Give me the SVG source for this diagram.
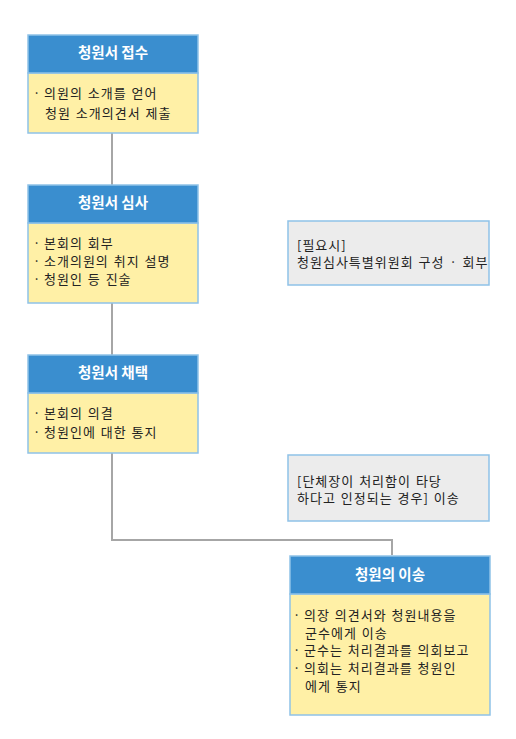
<svg xmlns="http://www.w3.org/2000/svg" width="516" height="739" viewBox="0 0 516 739">
<style>
.hd{fill:#3a8ecf;stroke:#8fc2e8;stroke-width:1.5}
.bd{fill:#fff0a6;stroke:#8fc2e8;stroke-width:1.5}
.nt{fill:#ececec;stroke:#8fc2e8;stroke-width:1.5}
.tt{font-family:"Noto Sans CJK KR","Noto Sans",sans-serif;font-size:14.5px;font-weight:bold;fill:#fff;text-anchor:middle}
.tx{font-family:"Noto Sans CJK KR","Noto Sans",sans-serif;font-size:13px;fill:#222;letter-spacing:1px;word-spacing:1px}
.cn{fill:none;stroke:#a6a6a6;stroke-width:2}
</style>
<rect width="516" height="739" fill="#fff"/>
<g id="connectors">
<path class="cn" d="M112 133V185"/>
<path class="cn" d="M112 303V355"/>
<path class="cn" d="M112 453V540H392V555"/>
</g>
<g id="node1">
<rect class="bd" x="28" y="73" width="170" height="60"/>
<rect class="hd" x="28" y="35" width="170" height="38"/>
<text class="tt" x="113" y="58">청원서 접수</text>
<text class="tx" y="98"><tspan x="33">·</tspan><tspan x="44">의원의 소개를 얻어</tspan></text>
<text class="tx" x="45" y="118">청원 소개의견서 제출</text>
</g>
<g id="node2">
<rect class="bd" x="28" y="223" width="170" height="80"/>
<rect class="hd" x="28" y="185" width="170" height="38"/>
<text class="tt" x="113" y="208">청원서 심사</text>
<text class="tx" y="248"><tspan x="33">·</tspan><tspan x="44">본회의 회부</tspan></text>
<text class="tx" y="266"><tspan x="33">·</tspan><tspan x="44">소개의원의 취지 설명</tspan></text>
<text class="tx" y="284"><tspan x="33">·</tspan><tspan x="44">청원인 등 진술</tspan></text>
</g>
<g id="note1">
<rect class="nt" x="288" y="221" width="201" height="64"/>
<text class="tx" x="297" y="249.5">[필요시]</text>
<text class="tx" x="297" y="267">청원심사특별위원회 구성 · 회부</text>
</g>
<g id="node3">
<rect class="bd" x="28" y="393" width="170" height="60"/>
<rect class="hd" x="28" y="355" width="170" height="38"/>
<text class="tt" x="113" y="378">청원서 채택</text>
<text class="tx" y="418"><tspan x="33">·</tspan><tspan x="44">본회의 의결</tspan></text>
<text class="tx" y="437"><tspan x="33">·</tspan><tspan x="44">청원인에 대한 통지</tspan></text>
</g>
<g id="note2">
<rect class="nt" x="288" y="455" width="201" height="66"/>
<text class="tx" x="297" y="485.5">[단체장이 처리함이 타당</text>
<text class="tx" x="297" y="503">하다고 인정되는 경우] 이송</text>
</g>
<g id="node4">
<rect class="bd" x="290" y="594" width="200" height="121"/>
<rect class="hd" x="290" y="556" width="200" height="38"/>
<text class="tt" x="390" y="580">청원의 이송</text>
<text class="tx" y="620"><tspan x="293">·</tspan><tspan x="304">의장 의견서와 청원내용을</tspan></text>
<text class="tx" x="305" y="637.5">군수에게 이송</text>
<text class="tx" y="655"><tspan x="293">·</tspan><tspan x="304">군수는 처리결과를 의회보고</tspan></text>
<text class="tx" y="673"><tspan x="293">·</tspan><tspan x="304">의회는 처리결과를 청원인</tspan></text>
<text class="tx" x="305" y="691">에게 통지</text>
</g>
</svg>
